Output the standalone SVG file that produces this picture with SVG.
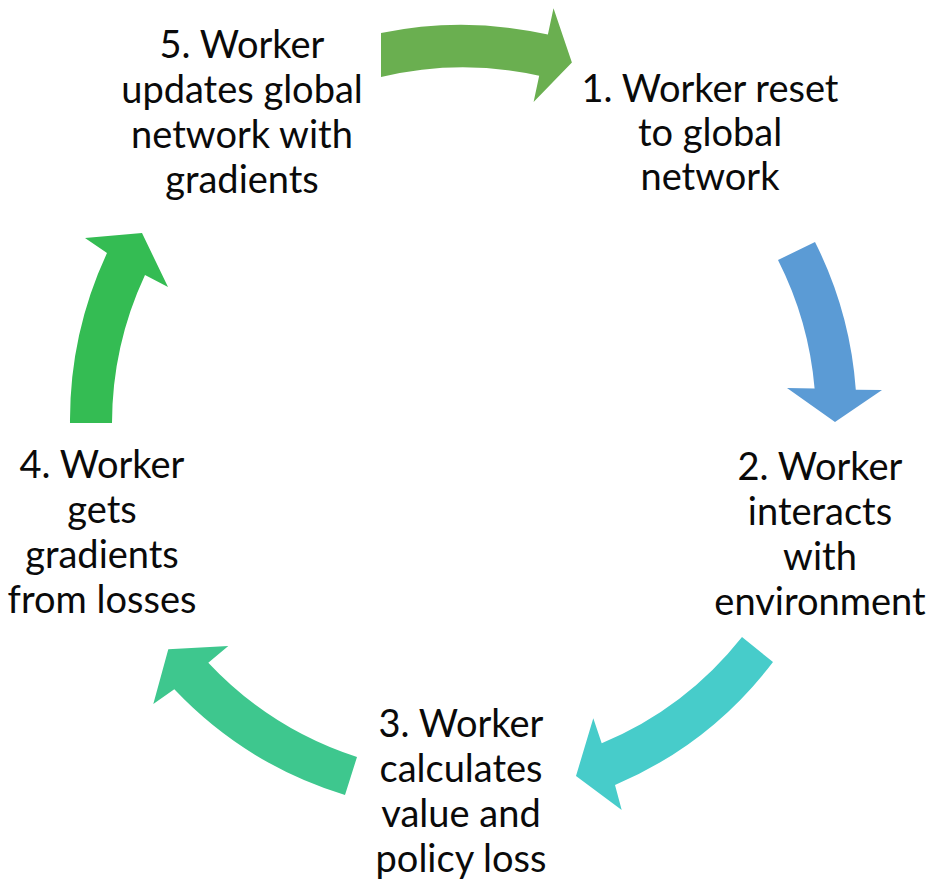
<svg xmlns="http://www.w3.org/2000/svg" width="932" height="885" viewBox="0 0 932 885">
<style>
  .lbl { font-family: Lato, "Open Sans", "Liberation Sans", sans-serif; font-size: 38px; fill: #0a0a0a; text-anchor: middle; }
</style>
<rect width="932" height="885" fill="#fff"/>
<g id="connectors">
  <path id="arrow-5-1" fill="#6AAF50" d="M381,33 A394,394 0 0 1 547.9,34.6 L553.5,8.2 L571.9,62.4 L533.6,102.1 L539.2,75.7 A352,352 0 0 0 381,77 Z"/>
  <path id="arrow-1-2" fill="#5B9BD5" d="M815,242 A391,391 0 0 1 855.8,389.8 L882,390 L835,422 L787,388 L814.6,388.6 A350,350 0 0 0 778,260 Z"/>
  <path id="arrow-2-3" fill="#47CCCA" d="M742,637 L773,662 A391,391 0 0 1 615,785 L621.7,810 L576,776 L593.3,718.3 L601.7,743.3 A351,351 0 0 0 742,637 Z"/>
  <path id="arrow-3-4" fill="#3EC78E" d="M345,795 A394,394 0 0 1 174.3,689.3 L153.3,704 L168.3,649.3 L228.3,646 L208.3,662.7 A354,354 0 0 0 357,757 Z"/>
  <path id="arrow-4-5" fill="#34BC53" d="M70,423 A396,396 0 0 1 107,253 L85,238 L142,233 L168,287 L145,275 A352,352 0 0 0 112,423 Z"/>
</g>
<g id="node-1">
  <text class="lbl" x="710" y="102">1. Worker reset</text>
  <text class="lbl" x="710" y="146">to global</text>
  <text class="lbl" x="710" y="190">network</text>
</g>
<g id="node-2">
  <text class="lbl" x="820" y="480">2. Worker</text>
  <text class="lbl" x="820" y="525">interacts</text>
  <text class="lbl" x="820" y="570">with</text>
  <text class="lbl" x="820" y="615">environment</text>
</g>
<g id="node-3">
  <text class="lbl" x="461" y="737">3. Worker</text>
  <text class="lbl" x="461" y="782">calculates</text>
  <text class="lbl" x="461" y="827">value and</text>
  <text class="lbl" x="461" y="872">policy loss</text>
</g>
<g id="node-4">
  <text class="lbl" x="102" y="478">4. Worker</text>
  <text class="lbl" x="102" y="523">gets</text>
  <text class="lbl" x="102" y="568">gradients</text>
  <text class="lbl" x="102" y="613">from losses</text>
</g>
<g id="node-5">
  <text class="lbl" x="242" y="58">5. Worker</text>
  <text class="lbl" x="242" y="103">updates global</text>
  <text class="lbl" x="242" y="148">network with</text>
  <text class="lbl" x="242" y="193">gradients</text>
</g>
</svg>
